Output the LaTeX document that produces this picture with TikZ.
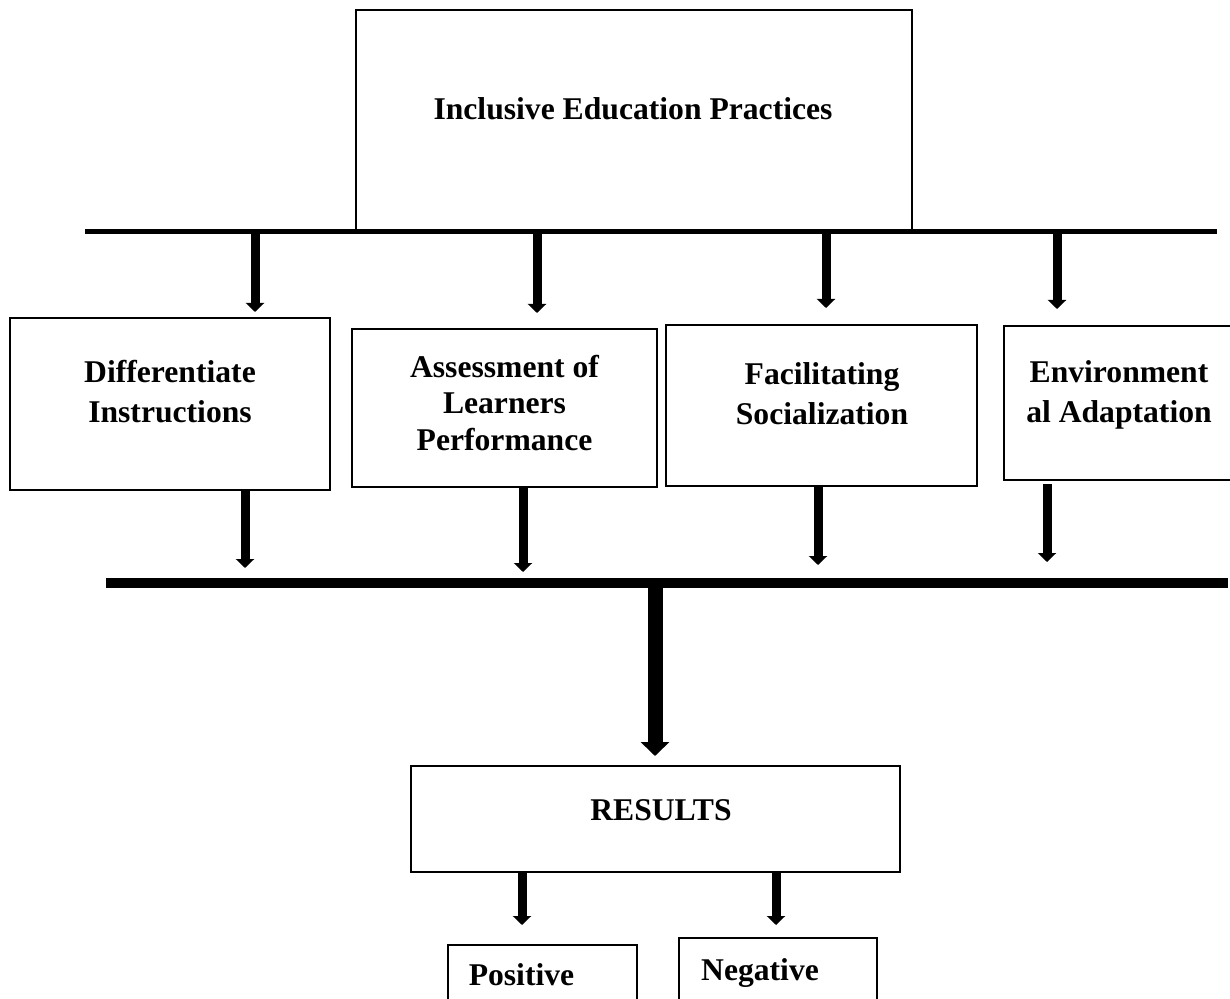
\documentclass[tikz,border=0pt]{standalone}
\usepackage{fontspec}
\setmainfont{Liberation Serif}
\usetikzlibrary{arrows.meta}
\tikzstyle{block} = [rectangle, draw, line width=0.4mm, inner sep=0pt]
\tikzstyle{txt} = [align=center, font=\fontsize{18}{22.7}\selectfont\bfseries, inner sep=0pt]
\tikzstyle{smallarrow} = [line width=1.8mm, -{Triangle[width=3.6mm, length=1.8mm]}]
\tikzstyle{bigarrow} = [line width=3mm, -{Triangle[width=5.6mm, length=2.8mm]}]
\tikzstyle{topbus} = [line width=1mm]
\tikzstyle{botbus} = [line width=2mm]

\begin{document}
\begin{tikzpicture}[x=0.2mm, y=-0.2mm]
    \useasboundingbox (0,0) rectangle (1230,999);
    \clip (0,0) rectangle (1230,999);
    \node(practices)[block, minimum width=111.2mm, minimum height=44.2mm] at (634,120.5) {};
    \node(diff)[block, minimum width=64mm, minimum height=34.4mm] at (170,404) {};
    \node(assess)[block, minimum width=61mm, minimum height=31.6mm] at (504.5,408) {};
    \node(facil)[block, minimum width=62.2mm, minimum height=32.2mm] at (821.5,405.5) {};
    \node(envir)[block, minimum width=46mm, minimum height=30.8mm] at (1119,403) {};
    \node(results)[block, minimum width=97.8mm, minimum height=21.2mm] at (655.5,819) {};
    \node(positive)[block, minimum width=37.8mm, minimum height=19mm] at (542.5,992.5) {};
    \node(negative)[block, minimum width=39.6mm, minimum height=20.4mm] at (778,989) {};
    \node(practicesTxt)[txt, anchor=base] at (633,120) {Inclusive Education Practices};
    \node(diffTxt)[txt] at (170,392) {Differentiate\\Instructions};
    \node(assessTxt)[txt, font=\fontsize{18}{20.5}\selectfont\bfseries] at (504.5,403) {Assessment of\\Learners\\Performance};
    \node(facilTxt)[txt] at (822,394) {Facilitating\\Socialization};
    \node(envirTxt)[txt] at (1119,395) {Environment\\al Adaptation};
    \node(resultsTxt)[txt, anchor=base] at (661,820) {RESULTS};
    \node(positiveTxt)[txt, anchor=base] at (521.5,985) {Positive};
    \node(negativeTxt)[txt, anchor=base] at (760,980) {Negative};
    \coordinate(topL) at (85,231.5);
    \coordinate(topR) at (1217,231.5);
    \coordinate(botL) at (106,583);
    \coordinate(botR) at (1228,583);
    \draw[topbus] (topL) -- (topR);
    \draw[botbus] (botL) -- (botR);
    \coordinate(t1) at (255,234);
    \coordinate(t2) at (537,234);
    \coordinate(t3) at (826,234);
    \coordinate(t4) at (1057,234);
    \draw[smallarrow, shorten >=1mm] (t1) -- (t1 |- diff.north);
    \draw[smallarrow, shorten >=3mm] (t2) -- (t2 |- assess.north);
    \draw[smallarrow, shorten >=3.2mm] (t3) -- (t3 |- facil.north);
    \draw[smallarrow, shorten >=3.2mm] (t4) -- (t4 |- envir.north);
    \coordinate(b1) at (245,568);
    \coordinate(b2) at (523,572);
    \coordinate(b3) at (818,565);
    \coordinate(b4) at (1047,562);
    \draw[smallarrow] (b1 |- diff.south) -- (b1);
    \draw[smallarrow] (b2 |- assess.south) -- (b2);
    \draw[smallarrow] (b3 |- facil.south) -- (b3);
    \draw[smallarrow, shorten <=0.6mm] (b4 |- envir.south) -- (b4);
    \coordinate(mid) at (655,588);
    \draw[bigarrow, shorten >=1.8mm] (mid) -- (mid |- results.north);
    \coordinate(r1) at (522,925);
    \coordinate(r2) at (776,925);
    \draw[smallarrow] (r1 |- results.south) -- (r1);
    \draw[smallarrow] (r2 |- results.south) -- (r2);
\end{tikzpicture}
\end{document}
